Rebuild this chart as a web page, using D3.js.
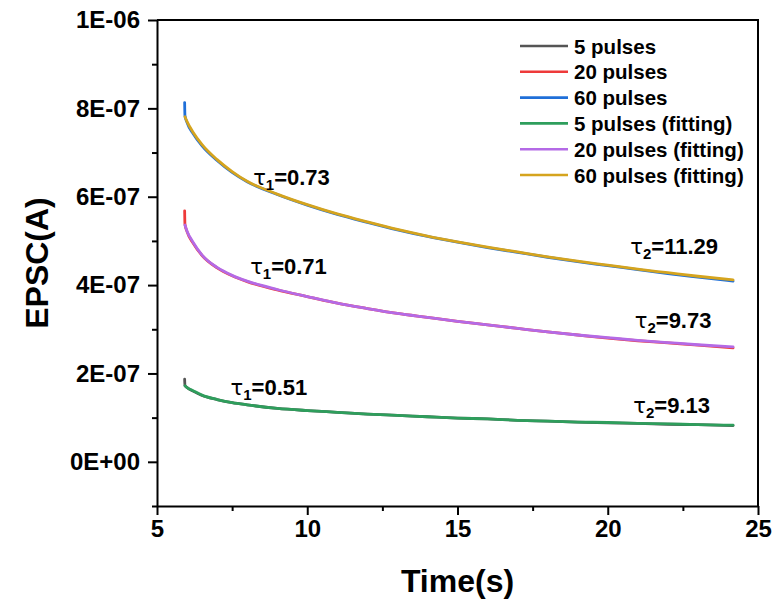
<!DOCTYPE html>
<html>
<head>
<meta charset="utf-8">
<script src="https://cdn.jsdelivr.net/npm/d3@7"></script>
<style>
  html, body { margin: 0; padding: 0; background: #fff; }
  svg { display: block; font-family: "Liberation Sans", Arial, sans-serif; }
</style>
</head>
<body>
<svg id="chart" width="778" height="600"></svg>
<script>
// Sample times (s) at which each EPSC decay trace is read
const times = [5.93, 6.0, 6.2, 6.5, 7.0, 7.5, 8.0, 9.0, 10, 11, 12, 13, 14, 15, 16, 17, 18, 19, 20, 21, 22, 23, 24.17];

// Fitted decay curves (A)
const fit5  = [1.72e-7, 1.68e-7, 1.61e-7, 1.51e-7, 1.41e-7, 1.34e-7, 1.29e-7, 1.21e-7, 1.16e-7, 1.12e-7, 1.08e-7, 1.05e-7, 1.02e-7, 0.99e-7, 0.97e-7, 0.94e-7, 0.92e-7, 0.90e-7, 0.89e-7, 0.87e-7, 0.86e-7, 0.84e-7, 0.83e-7];
const fit20 = [5.36e-7, 5.22e-7, 4.97e-7, 4.68e-7, 4.40e-7, 4.22e-7, 4.09e-7, 3.90e-7, 3.74e-7, 3.59e-7, 3.47e-7, 3.36e-7, 3.27e-7, 3.18e-7, 3.10e-7, 3.02e-7, 2.94e-7, 2.87e-7, 2.81e-7, 2.75e-7, 2.70e-7, 2.65e-7, 2.60e-7];
const fit60 = [7.81e-7, 7.70e-7, 7.46e-7, 7.18e-7, 6.84e-7, 6.57e-7, 6.35e-7, 6.06e-7, 5.82e-7, 5.61e-7, 5.43e-7, 5.26e-7, 5.11e-7, 4.98e-7, 4.86e-7, 4.75e-7, 4.64e-7, 4.54e-7, 4.45e-7, 4.36e-7, 4.28e-7, 4.20e-7, 4.12e-7];

// Measured traces: peak at the first sample, then the decay
const peakTime = 5.92;
const meas5Peak = 1.87e-7, meas20Peak = 5.68e-7, meas60Peak = 8.13e-7;
const meas5  = [1.73e-7, 1.68e-7, 1.60e-7, 1.50e-7, 1.41e-7, 1.34e-7, 1.29e-7, 1.21e-7, 1.16e-7, 1.12e-7, 1.08e-7, 1.05e-7, 1.02e-7, 0.99e-7, 0.97e-7, 0.94e-7, 0.92e-7, 0.90e-7, 0.88e-7, 0.87e-7, 0.85e-7, 0.84e-7, 0.82e-7];
const meas20 = [5.38e-7, 5.21e-7, 4.95e-7, 4.67e-7, 4.39e-7, 4.21e-7, 4.08e-7, 3.89e-7, 3.74e-7, 3.59e-7, 3.47e-7, 3.36e-7, 3.27e-7, 3.18e-7, 3.10e-7, 3.02e-7, 2.94e-7, 2.87e-7, 2.80e-7, 2.74e-7, 2.69e-7, 2.64e-7, 2.58e-7];
const meas60 = [7.84e-7, 7.68e-7, 7.43e-7, 7.15e-7, 6.82e-7, 6.55e-7, 6.34e-7, 6.05e-7, 5.81e-7, 5.60e-7, 5.42e-7, 5.25e-7, 5.10e-7, 4.97e-7, 4.85e-7, 4.74e-7, 4.63e-7, 4.53e-7, 4.44e-7, 4.35e-7, 4.26e-7, 4.18e-7, 4.09e-7];

// Legend entries and colours
const seriesNames = ["5 pulses", "20 pulses", "60 pulses", "5 pulses (fitting)", "20 pulses (fitting)", "60 pulses (fitting)"];
const seriesColors = ["#555555", "#ee3a3a", "#1f6fd8", "#2e9e5c", "#b46ae6", "#d5a41e"];

// Axis ticks
const xTicks = [5, 10, 15, 20, 25];
const xTickLabels = ["5", "10", "15", "20", "25"];
const xMinor = [7.5, 12.5, 17.5, 22.5];
const yTicks = [0, 2e-7, 4e-7, 6e-7, 8e-7, 1e-6];
const yTickLabels = ["0E+00", "2E-07", "4E-07", "6E-07", "8E-07", "1E-06"];
const yMinor = [-1e-7, 1e-7, 3e-7, 5e-7, 7e-7, 9e-7];

// Decay time constants annotated on the curves
const tauLabels = [
  { sub: "1", val: "0.73", t: 8.2,  v: 6.26e-7 },
  { sub: "1", val: "0.71", t: 8.1,  v: 4.24e-7 },
  { sub: "1", val: "0.51", t: 7.45, v: 1.51e-7 },
  { sub: "2", val: "11.29", t: 20.75, v: 4.70e-7 },
  { sub: "2", val: "9.73", t: 20.9, v: 3.02e-7 },
  { sub: "2", val: "9.13", t: 20.85, v: 1.10e-7 }
];

const svg = d3.select("#chart");
const plotLeft = 157, plotRight = 758, plotTop = 20, plotBottom = 506;

const x = d3.scaleLinear().domain([5, 25]).range([plotLeft, plotRight]);
const y = d3.scaleLinear().domain([-1e-7, 1e-6]).range([plotBottom, plotTop]);

// Frame (top and right edges)
svg.append("path")
  .attr("d", `M${plotLeft},${plotTop}H${plotRight}V${plotBottom}`)
  .attr("fill", "none").attr("stroke", "#000").attr("stroke-width", 2);

// Minor ticks
svg.append("g").attr("transform", `translate(0,${plotBottom})`)
  .call(d3.axisBottom(x).tickValues(xMinor).tickSize(5).tickFormat(""))
  .call(g => g.select(".domain").remove())
  .selectAll("line").attr("stroke-width", 2);
svg.append("g").attr("transform", `translate(${plotLeft},0)`)
  .call(d3.axisLeft(y).tickValues(yMinor).tickSize(5).tickFormat(""))
  .call(g => g.select(".domain").remove())
  .selectAll("line").attr("stroke-width", 2);

// Major axes
const xAxis = svg.append("g").attr("transform", `translate(0,${plotBottom})`)
  .call(d3.axisBottom(x).tickValues(xTicks).tickSize(9).tickSizeOuter(0).tickPadding(5)
    .tickFormat((d, i) => xTickLabels[i]));
const yAxis = svg.append("g").attr("transform", `translate(${plotLeft},0)`)
  .call(d3.axisLeft(y).tickValues(yTicks).tickSize(9).tickSizeOuter(0).tickPadding(8)
    .tickFormat((d, i) => yTickLabels[i]));
[xAxis, yAxis].forEach(g => {
  g.select(".domain").attr("stroke-width", 2);
  g.selectAll(".tick line").attr("stroke-width", 2);
  g.selectAll(".tick text")
    .attr("font-family", "'Liberation Sans', Arial, sans-serif")
    .attr("font-size", 24).attr("font-weight", "bold").attr("fill", "#000");
});

// Axis titles
svg.append("text")
  .attr("x", (plotLeft + plotRight) / 2).attr("y", 592)
  .attr("text-anchor", "middle")
  .attr("font-size", 32).attr("font-weight", "bold")
  .text("Time(s)");
svg.append("text")
  .attr("transform", `translate(48,${(plotTop + plotBottom) / 2}) rotate(-90)`)
  .attr("text-anchor", "middle")
  .attr("font-size", 32).attr("font-weight", "bold")
  .text("EPSC(A)");

// Curves
const line = d3.line()
  .x(d => x(d[0])).y(d => y(d[1]))
  .curve(d3.curveMonotoneX);

const measured = [
  [[peakTime, meas5Peak]].concat(times.map((t, i) => [t, meas5[i]])),
  [[peakTime, meas20Peak]].concat(times.map((t, i) => [t, meas20[i]])),
  [[peakTime, meas60Peak]].concat(times.map((t, i) => [t, meas60[i]]))
];
const fitted = [fit5, fit20, fit60].map(arr => times.map((t, i) => [t, arr[i]]));

const curves = svg.append("g").attr("fill", "none")
  .attr("stroke-linecap", "round").attr("stroke-linejoin", "round");
measured.concat(fitted).forEach((pts, k) => {
  curves.append("path")
    .attr("d", line(pts))
    .attr("stroke", seriesColors[k])
    .attr("stroke-width", 2.8);
});

// Time-constant annotations
const ann = svg.append("g").attr("font-size", 22).attr("font-weight", "bold").attr("fill", "#000");
tauLabels.forEach(d => {
  const t = ann.append("text").attr("x", x(d.t)).attr("y", y(d.v));
  t.append("tspan").attr("font-weight", "normal").attr("font-family", "'DejaVu Sans', sans-serif")
    .attr("font-size", 21).text("τ");
  t.append("tspan").attr("font-size", 15).attr("dy", 5).text(d.sub);
  t.append("tspan").attr("dy", -5).text("=" + d.val);
});

// Legend
const legend = svg.append("g").attr("transform", "translate(520,46)");
seriesNames.forEach((name, i) => {
  const row = legend.append("g").attr("transform", `translate(0,${i * 25.8})`);
  row.append("line").attr("x1", 0).attr("x2", 48).attr("y1", 0).attr("y2", 0)
    .attr("stroke", seriesColors[i]).attr("stroke-width", 2.6);
  row.append("text").attr("x", 54).attr("y", 7.5)
    .attr("font-size", 20.5).attr("font-weight", "bold").text(name);
});
</script>
</body>
</html>
